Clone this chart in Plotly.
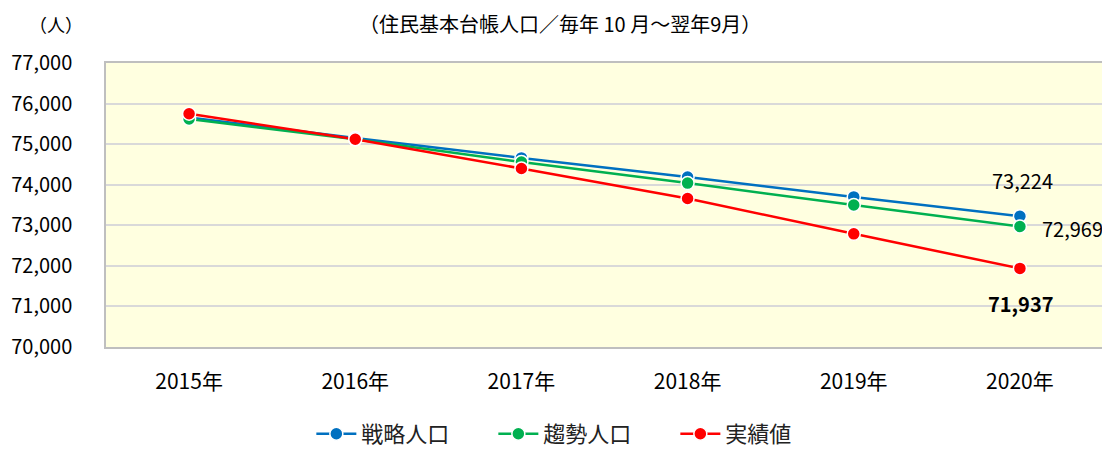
import plotly.graph_objects as go

years = ["2015年", "2016年", "2017年", "2018年", "2019年", "2020年"]
strategic = [75660, 75150, 74660, 74190, 73700, 73224]
trend = [75620, 75120, 74560, 74040, 73500, 72969]
actual = [75750, 75120, 74400, 73660, 72790, 71937]

y_ticks = [70000, 71000, 72000, 73000, 74000, 75000, 76000, 77000]
y_tick_text = ["70,000", "71,000", "72,000", "73,000", "74,000", "75,000", "76,000", "77,000"]

FONT = "Noto Sans CJK JP"

series = [
    ("戦略人口", strategic, "#0070C0"),
    ("趨勢人口", trend, "#00B050"),
    ("実績値", actual, "#FF0000"),
]

fig = go.Figure()
for name, vals, color in series:
    fig.add_trace(go.Scatter(
        x=years, y=vals, name=name, mode="lines+markers",
        line=dict(color=color, width=2.5),
        marker=dict(size=13, color=color, line=dict(color="white", width=1.5)),
    ))

fig.add_annotation(x=years[-1], y=strategic[-1], text="73,224", showarrow=False,
                   yshift=36, xshift=3, font=dict(size=20, color="black", family=FONT))
fig.add_annotation(x=years[-1], y=trend[-1], text="72,969", showarrow=False,
                   xanchor="left", xshift=20, yshift=-2,
                   font=dict(size=20, color="black", family=FONT))
fig.add_annotation(x=years[-1], y=actual[-1], text="<b>71,937</b>", showarrow=False,
                   yshift=-35, xshift=1, font=dict(size=20, color="black", family=FONT))

fig.add_annotation(xref="paper", yref="paper", x=-0.050, y=1.0, yshift=39,
                   xanchor="center", yanchor="middle",
                   text="（人）", showarrow=False,
                   font=dict(size=18, color="black", family=FONT))
fig.add_annotation(xref="paper", yref="paper", x=0.455, y=1.0, yshift=40,
                   xanchor="center", yanchor="middle",
                   text="（住民基本台帳人口／毎年 10 月～翌年9月）", showarrow=False,
                   font=dict(size=20, color="black", family=FONT))

fig.update_layout(
    width=1102, height=447,
    margin=dict(l=98, r=7, t=55, b=108, autoexpand=False),
    paper_bgcolor="white",
    plot_bgcolor="#FFFFE0",
    font=dict(family=FONT, size=20, color="black"),
    showlegend=True,
    legend=dict(orientation="h", x=0.523, xanchor="center", xref="container",
                y=0.0, yanchor="bottom", yref="container",
                font=dict(size=22, color="#222"), itemwidth=40,
                entrywidth=127, entrywidthmode="pixels"),
    xaxis=dict(
        type="category", range=[-0.5, 5.5], showgrid=False, showline=True,
        linecolor="#BFBFBF", linewidth=1.5, mirror=True, ticks="",
        ticklabelstandoff=15, automargin=False,
        tickfont=dict(size=21, family=FONT),
    ),
    yaxis=dict(
        range=[70000, 77000], tickvals=y_ticks, ticktext=y_tick_text,
        showgrid=True, gridcolor="#D9D9D9", gridwidth=1.5,
        showline=True, linecolor="#BFBFBF", linewidth=1.5, mirror=True,
        ticks="", ticklabelstandoff=28, zeroline=False, automargin=False,
        tickfont=dict(size=20, family=FONT),
    ),
)

fig.write_html("out.html")
